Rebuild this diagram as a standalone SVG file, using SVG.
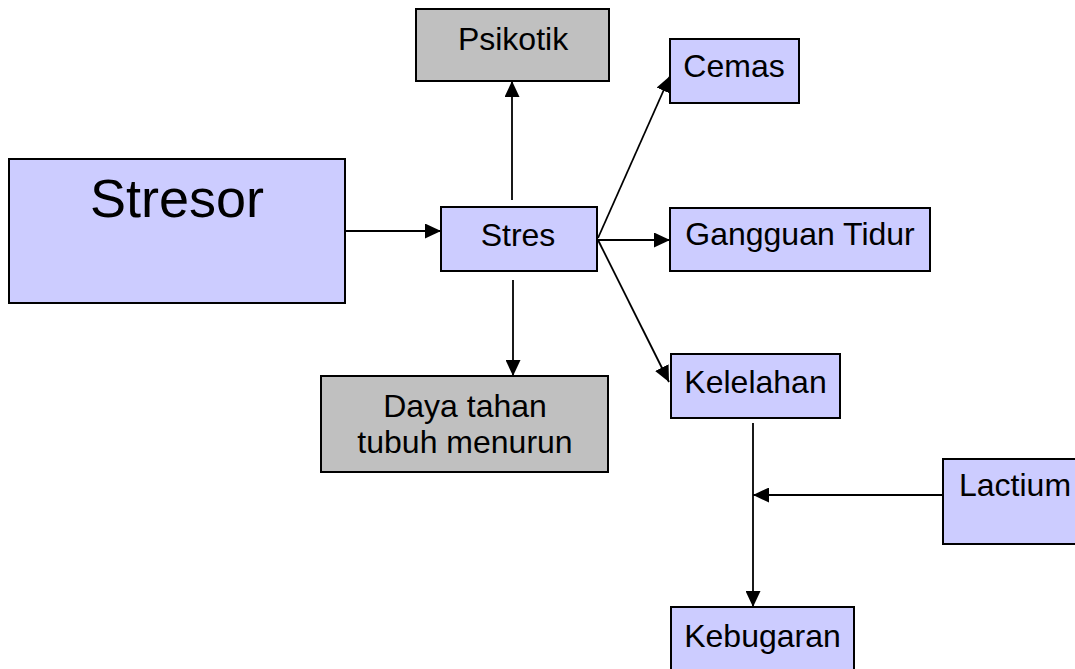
<svg xmlns="http://www.w3.org/2000/svg" width="1075" height="669" viewBox="0 0 1075 669">
  <style>
    .box { stroke: #000; stroke-width: 2; }
    .blue { fill: #ccccff; }
    .grey { fill: #c0c0c0; }
    .lbl { font-family: "Liberation Sans", Arial, sans-serif; font-size: 32px; fill: #000; text-anchor: middle; }
    .big { font-size: 54px; }
    .conn { stroke: #000; stroke-width: 1.8; fill: none; marker-end: url(#arr); }
  </style>
  <defs>
    <marker id="arr" markerUnits="userSpaceOnUse" markerWidth="16" markerHeight="15" refX="16" refY="7.5" orient="auto" viewBox="0 0 16 15">
      <path d="M0,0 L16,7.5 L0,15 Z" fill="#000"/>
    </marker>
  </defs>
  <rect width="1075" height="669" fill="#fff"/>
  <g id="connectors">
    <line class="conn" x1="345" y1="231" x2="441" y2="231"/>
    <line class="conn" x1="512" y1="200" x2="512" y2="81"/>
    <line class="conn" x1="513" y1="280" x2="513" y2="376"/>
    <line class="conn" x1="597" y1="240" x2="670" y2="240"/>
    <line class="conn" x1="598" y1="238" x2="670" y2="76"/>
    <line class="conn" x1="598" y1="240" x2="669" y2="382"/>
    <line class="conn" x1="753" y1="423" x2="753" y2="607"/>
    <line class="conn" x1="945" y1="495" x2="753" y2="495"/>
  </g>
  <g id="stresor">
    <rect class="box blue" x="9" y="159" width="336" height="144"/>
    <text class="lbl big" x="177" y="217">Stresor</text>
  </g>
  <g id="stres">
    <rect class="box blue" x="441" y="207" width="156" height="64"/>
    <text class="lbl" x="518" y="246">Stres</text>
  </g>
  <g id="psikotik">
    <rect class="box grey" x="416" y="9" width="193" height="72"/>
    <text class="lbl" x="513" y="50">Psikotik</text>
  </g>
  <g id="cemas">
    <rect class="box blue" x="670" y="39" width="129" height="64"/>
    <text class="lbl" x="734" y="77">Cemas</text>
  </g>
  <g id="gangguan-tidur">
    <rect class="box blue" x="670" y="208" width="260" height="63"/>
    <text class="lbl" x="800" y="245">Gangguan Tidur</text>
  </g>
  <g id="kelelahan">
    <rect class="box blue" x="671" y="354" width="169" height="64"/>
    <text class="lbl" x="755.5" y="393">Kelelahan</text>
  </g>
  <g id="daya-tahan">
    <rect class="box grey" x="321" y="376" width="287" height="96"/>
    <text class="lbl" x="465" y="417">Daya tahan</text>
    <text class="lbl" x="465" y="453">tubuh menurun</text>
  </g>
  <g id="kebugaran">
    <rect class="box blue" x="671" y="607" width="183" height="70"/>
    <text class="lbl" x="762.5" y="647">Kebugaran</text>
  </g>
  <g id="lactium">
    <rect class="box blue" x="943" y="459" width="140" height="85"/>
    <text class="lbl" x="959" y="496" style="text-anchor:start">Lactium</text>
  </g>
</svg>
